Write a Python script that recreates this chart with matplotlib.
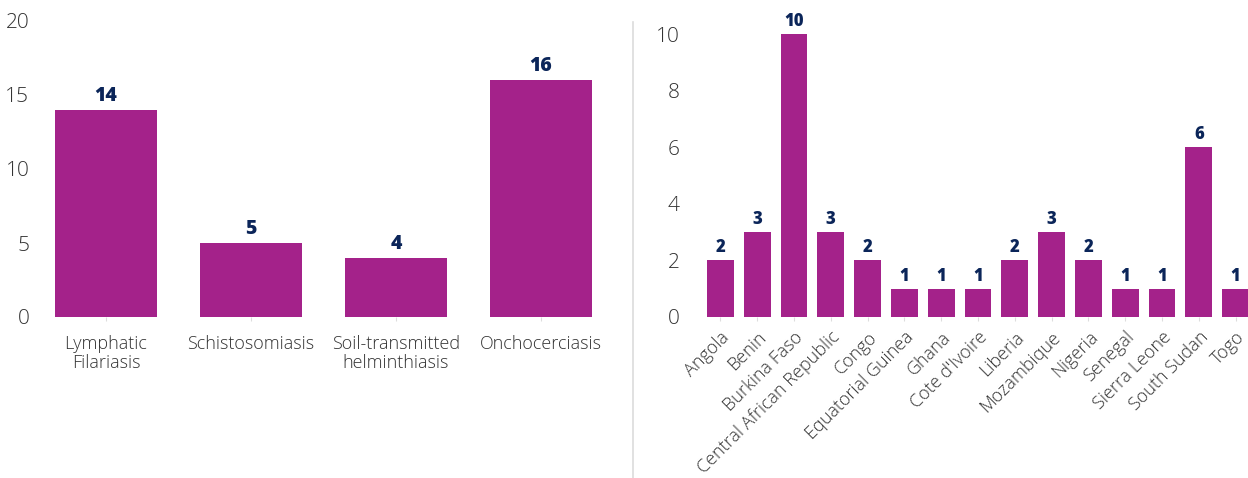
import matplotlib.pyplot as plt

# disease counts
diseases = ["Lymphatic\nFilariasis", "Schistosomiasis", "Soil-transmitted\nhelminthiasis", "Onchocerciasis"]
disease_counts = [14, 5, 4, 16]

# country counts
countries = ["Angola", "Benin", "Burkina Faso", "Central African Republic", "Congo",
             "Equatorial Guinea", "Ghana", "Cote d'Ivoire", "Liberia", "Mozambique",
             "Nigeria", "Senegal", "Sierra Leone", "South Sudan", "Togo"]
country_counts = [2, 3, 10, 3, 2, 1, 1, 1, 2, 3, 2, 1, 1, 6, 1]

BAR = "#a4228a"
LABEL = "#0b2559"
TICK = "#333333"

plt.rcParams["font.family"] = ["Open Sans", "DejaVu Sans"]

W, H = 1248, 478
fig = plt.figure(figsize=(W / 100, H / 100), dpi=100)


def px_axes(x0, y0, x1, y1):
    return fig.add_axes([x0 / W, 1 - y1 / H, (x1 - x0) / W, (y1 - y0) / H])


def style(ax):
    for s in ax.spines.values():
        s.set_visible(False)
    ax.tick_params(axis="y", length=0, labelsize=15, labelcolor=TICK)
    ax.tick_params(axis="x", length=3, color="#dddddd", labelcolor=TICK)
    for t in ax.get_yticklabels() + ax.get_xticklabels():
        t.set_fontweight("light")


# left chart
ax1 = px_axes(33.5, 21, 613.5, 317)
b1 = ax1.bar(range(len(diseases)), disease_counts, width=0.70, color=BAR)
ax1.set_xlim(-0.5, len(diseases) - 0.5)
ax1.set_ylim(0, 20)
ax1.set_yticks([0, 5, 10, 15, 20])
ax1.set_xticks(range(len(diseases)))
ax1.set_xticklabels(diseases, fontsize=13, linespacing=1.05)
ax1.tick_params(axis="x", pad=10)
ax1.tick_params(axis="y", pad=3)
style(ax1)
ax1.bar_label(b1, labels=[str(v) for v in disease_counts], padding=3,
              fontsize=14, fontweight="heavy", color=LABEL)

# right chart
ax2 = px_axes(702, 34, 1254, 317)
b2 = ax2.bar(range(len(countries)), country_counts, width=0.73, color=BAR)
ax2.set_xlim(-0.5, len(countries) - 0.5)
ax2.set_ylim(0, 10)
ax2.set_yticks([0, 2, 4, 6, 8, 10])
ax2.set_xticks(range(len(countries)))
ax2.set_xticklabels(countries, fontsize=13, rotation=45, ha="right",
                    rotation_mode="anchor")
ax2.tick_params(axis="x", pad=5)
ax2.tick_params(axis="y", pad=16)
style(ax2)
ax2.bar_label(b2, labels=[str(v) for v in country_counts], padding=3,
              fontsize=12, fontweight="heavy", color=LABEL)

# divider between the two panels
fig.add_artist(plt.Line2D([633 / W, 633 / W], [0, 1 - 22 / H],
                          color="#dcdcdc", lw=1.2))

fig.savefig("out.png", dpi=100)
